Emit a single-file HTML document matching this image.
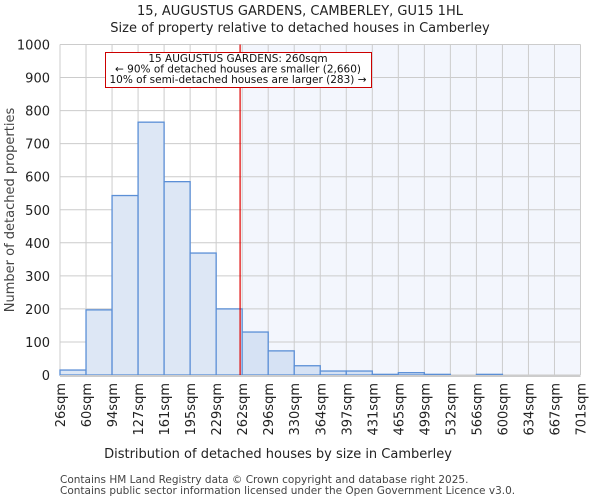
<!DOCTYPE html>
<html><head><meta charset="utf-8"><style>
body{margin:0;background:#fff;font-family:"DejaVu Sans","Liberation Sans",sans-serif}
</style></head><body>
<svg id="c" width="600" height="500" xmlns="http://www.w3.org/2000/svg" font-family="DejaVu Sans, Liberation Sans, sans-serif">
<text x="300" y="15" text-anchor="middle" font-size="13" fill="#222">15, AUGUSTUS GARDENS, CAMBERLEY, GU15 1HL</text>
<text x="300" y="32" text-anchor="middle" font-size="13" fill="#222">Size of property relative to detached houses in Camberley</text>
<g id="plot"></g>
<text x="278" y="458" text-anchor="middle" font-size="13" fill="#222">Distribution of detached houses by size in Camberley</text>
<text transform="translate(14,210) rotate(-90)" text-anchor="middle" font-size="13" fill="#444">Number of detached properties</text>
<text x="60" y="483" font-size="10.5" fill="#444">Contains HM Land Registry data © Crown copyright and database right 2025.</text>
<text x="60" y="494" font-size="10.5" fill="#444">Contains public sector information licensed under the Open Government Licence v3.0.</text>
</svg>
<script>
const categories=["26sqm","60sqm","94sqm","127sqm","161sqm","195sqm","229sqm","262sqm","296sqm","330sqm","364sqm","397sqm","431sqm","465sqm","499sqm","532sqm","566sqm","600sqm","634sqm","667sqm","701sqm"];
const counts=[15,197,543,765,585,369,200,130,73,28,12,12,2,7,2,0,2,0,0,0];
const yTicks=[0,100,200,300,400,500,600,700,800,900,1000];
const markerBin=7.0-0.08;
const NS="http://www.w3.org/2000/svg";
const g=document.getElementById('plot');
const L=60,R=580.5,T=44.5,B=375,bw=(R-L)/counts.length;
const x=i=>L+i*bw, y=v=>B-(v/1000)*(B-T);
function mk(t,a){const e=document.createElementNS(NS,t);for(const k in a)e.setAttribute(k,a[k]);g.appendChild(e);return e;}
const xm=x(7);
let s=mk('rect',{x:xm,y:T,width:R-xm,height:B-T,fill:'#f3f6fd'});


yTicks.forEach(v=>{let l=mk('line',{x1:L,x2:R,y1:y(v),y2:y(v),stroke:'#ccc','stroke-width':1});


let t=mk('text',{x:L-10,y:y(v)+5,'text-anchor':'end','font-size':13,fill:'#222'});t.textContent=v;

});
categories.forEach((c,i)=>{let l=mk('line',{x1:x(i),x2:x(i),y1:T,y2:B,stroke:'#ccc','stroke-width':1});


let t=mk('text',{transform:`translate(${x(i)+5},${B+8}) rotate(-90)`,'text-anchor':'end','font-size':13,fill:'#222'});t.textContent=c;

});
counts.forEach((v,i)=>{let r=mk('rect',{x:x(i),y:y(v),width:bw,height:B-y(v),fill:i>=7?'#d6e2f4':'#dde7f5',stroke:'#5b8fd6','stroke-width':1.3});

});
let ax=mk('line',{x1:L,x2:R,y1:B+1,y2:B+1,stroke:'#ccc','stroke-width':2});


const mx=x(markerBin);
let ml=mk('line',{x1:mx,x2:mx,y1:T,y2:B,stroke:'#d00','stroke-width':1.2});


let box=mk('rect',{x:105.5,y:52.5,width:266,height:35,fill:'#fff',stroke:'#c00','stroke-width':1});


["15 AUGUSTUS GARDENS: 260sqm","← 90% of detached houses are smaller (2,660)","10% of semi-detached houses are larger (283) →"].forEach((s,i)=>{
let t=mk('text',{x:238,y:62+i*10.5,'text-anchor':'middle','font-size':10.5,fill:'#111'});t.textContent=s;

});
</script>
</body></html>
